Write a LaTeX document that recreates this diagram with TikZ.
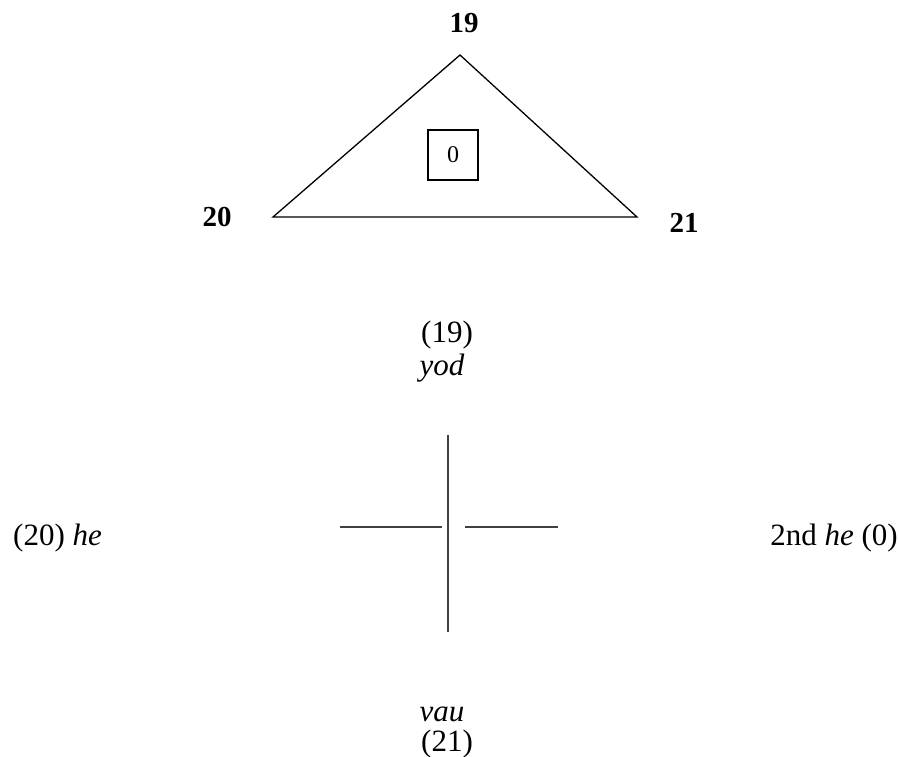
\documentclass[tikz,border=0pt]{standalone}
\usepackage{fontspec}
\setmainfont{Liberation Serif}
\usepackage{tikz}
\usetikzlibrary{positioning}

\begin{document}
\begin{tikzpicture}[
      x=1pt, y=-1pt,
      num/.style={inner sep=0pt, font=\fontsize{29}{32}\selectfont\bfseries},
      lbl/.style={inner sep=0pt, anchor=base, font=\fontsize{31}{35}\selectfont},
      edge/.style={line width=1.3pt, line join=miter},
      bar/.style={line width=1.5pt, draw=black!75},
    ]
      \useasboundingbox (0,0) rectangle (899,756);

      % triangle
      \coordinate (top) at (460,55);
      \coordinate (left) at (273,217);
      \coordinate (right) at (637,217);
      \draw[edge] (top) -- (left) -- (right) -- cycle;

      \node[num] (n19) at (464,23) {19};
      \node[num] (n20) at (217,217) {20};
      \node[num] (n21) at (684,223) {21};
      \node[draw, line width=1.2pt, minimum width=50pt, minimum height=50pt, inner sep=0pt,
            font=\fontsize{24}{26}\selectfont] (zero) at (453,155) {0};

      % cross
      \coordinate (vtop) at (448,435);
      \coordinate (vbot) at (448,632);
      \coordinate (hl1) at (340,527);
      \coordinate (hl2) at (442,527);
      \coordinate (hr1) at (465,527);
      \coordinate (hr2) at (558,527);
      \draw[bar] (vtop) -- (vbot);
      \draw[bar] (hl1) -- (hl2);
      \draw[bar] (hr1) -- (hr2);

      \node[lbl] (p19) at (447,342) {(19)};
      \node[lbl] (yod) at (442,375) {\itshape yod};
      \node[lbl, anchor=base west] (he) at (13,545) {(20) \textit{he}};
      \node[lbl, anchor=base east] (he2) at (898,545) {2nd \textit{he} (0)};
      \node[lbl] (vau) at (442,721) {\itshape vau};
      \node[lbl] (p21) at (447,751) {(21)};
    \end{tikzpicture}
\end{document}
